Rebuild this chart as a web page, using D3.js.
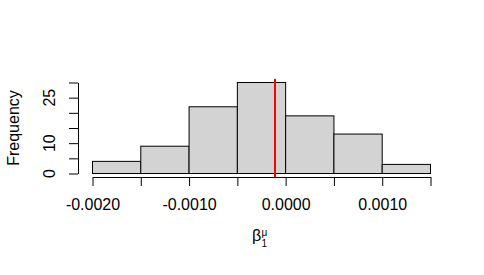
<!DOCTYPE html>
<html>
<head>
<meta charset="utf-8">
<script src="https://cdn.jsdelivr.net/npm/d3@7"></script>
<style>
  body { margin: 0; background: #fff; }
  text { font-family: "Liberation Sans", Arial, sans-serif; }
</style>
</head>
<body>
<svg width="484" height="275"></svg>
<script>
const BREAKS = [-0.002, -0.0015, -0.001, -0.0005, 0, 0.0005, 0.001, 0.0015];
const COUNTS = [4, 9, 22, 30, 19, 13, 3];
const X_LABELS = [-0.002, -0.001, 0, 0.001];
const Y_TICKS = [0, 5, 10, 15, 20, 25, 30];
const Y_LABELS = [0, 10, 25];
const MEAN_LINE = -0.00011;

const width = 484, height = 275;

const svg = d3.select("svg")
  .attr("width", width)
  .attr("height", height);

const xScale = d3.scaleLinear()
  .domain([-0.002, 0.0015])
  .range([92.5, 430.5]);

const yScale = d3.scaleLinear()
  .domain([0, 30])
  .range([173.5, 82.5]);

const bins = COUNTS.map((c, i) => ({ x0: BREAKS[i], x1: BREAKS[i + 1], count: c }));

// bars
svg.selectAll(".bar")
  .data(bins)
  .enter()
  .append("rect")
  .attr("class", "bar")
  .attr("x", d => xScale(d.x0))
  .attr("y", d => yScale(d.count))
  .attr("width", d => xScale(d.x1) - xScale(d.x0))
  .attr("height", d => yScale(0) - yScale(d.count))
  .attr("fill", "#d3d3d3")
  .attr("stroke", "#000")
  .attr("stroke-width", 1);

// red vertical line, clipped to plot region
svg.append("line")
  .attr("x1", xScale(MEAN_LINE))
  .attr("x2", xScale(MEAN_LINE))
  .attr("y1", yScale(31.2))
  .attr("y2", yScale(-1.2))
  .attr("stroke", "#ff0000")
  .attr("stroke-width", 2);

// x axis
const xAxis = d3.axisBottom(xScale)
  .tickValues(BREAKS)
  .tickSizeInner(9)
  .tickSizeOuter(0)
  .tickPadding(13)
  .tickFormat(d => X_LABELS.some(v => Math.abs(v - d) < 1e-9) ? d3.format(".4f")(d).replace("−", "-") : "");

const gx = svg.append("g")
  .attr("transform", "translate(0,177)")
  .call(xAxis);
gx.selectAll("text")
  .attr("fill", "#000")
  .style("font-size", "16px")
  .style("font-family", "'Liberation Sans', Arial, sans-serif");
gx.selectAll("line, path").attr("stroke", "#000");

// y axis
const yAxis = d3.axisLeft(yScale)
  .tickValues(Y_TICKS)
  .tickSizeInner(9)
  .tickSizeOuter(0)
  .tickFormat("");

const gy = svg.append("g")
  .attr("transform", "translate(78,0)")
  .call(yAxis);
gy.selectAll("line, path").attr("stroke", "#000");

// rotated y tick labels
svg.selectAll(".ylab")
  .data(Y_LABELS)
  .enter()
  .append("text")
  .attr("class", "ylab")
  .attr("transform", d => `translate(55,${yScale(d)}) rotate(-90)`)
  .attr("text-anchor", "middle")
  .attr("fill", "#000")
  .style("font-size", "16px")
  .text(d => d);

// y axis title
svg.append("text")
  .attr("transform", `translate(18.5,${(yScale(0) + yScale(30)) / 2}) rotate(-90)`)
  .attr("text-anchor", "middle")
  .attr("fill", "#000")
  .style("font-size", "16px")
  .text("Frequency");

// x axis title: beta_1^mu
const xt = svg.append("text")
  .attr("x", 252)
  .attr("y", 241)
  .attr("fill", "#000")
  .style("font-size", "16px");
xt.append("tspan").text("β");
svg.append("text")
  .attr("x", 261.5)
  .attr("y", 236)
  .attr("fill", "#000")
  .style("font-size", "10px")
  .text("μ");
svg.append("text")
  .attr("x", 261.5)
  .attr("y", 246.5)
  .attr("fill", "#000")
  .style("font-size", "10px")
  .text("1");
</script>
</body>
</html>
